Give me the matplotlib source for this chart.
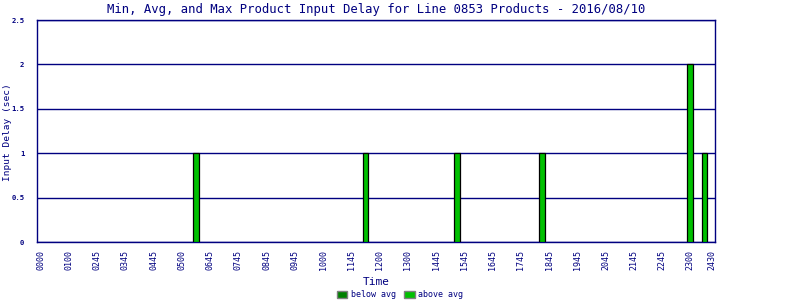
import matplotlib
matplotlib.use("Agg")
import matplotlib.pyplot as plt
from matplotlib.patches import Patch

# time slots (15 min each), only some are labelled on the axis
n_slots = 96
tick_slots = [0, 4, 8, 12, 16, 20, 24, 28, 32, 36, 40, 44, 48, 52, 56, 60, 64, 68, 72, 76, 80, 84, 88, 92, 95]
tick_labels = ["0000", "0100", "0245", "0345", "0445", "0500", "0645", "0745", "0845", "0945",
               "1000", "1145", "1200", "1300", "1445", "1545", "1645", "1745", "1845", "1945",
               "2045", "2145", "2245", "2300", "2430"]

# slots that have a delay value, and the delay in seconds
bar_slots = [22, 46, 59, 71, 92, 94]
delays = [1, 1, 1, 1, 2, 1]

navy = "#000080"
plt.rcParams["font.family"] = ["DejaVu Sans Mono"]

fig = plt.figure(figsize=(8, 3), dpi=100)
ax = fig.add_axes([0.04625, 0.1933, 0.8475, 0.74])

ax.bar(bar_slots, delays, width=0.8, color="#00C000", edgecolor="black", linewidth=0.9, zorder=3)

ax.set_xlim(-0.5, n_slots - 0.5)
ax.set_ylim(0, 2.5)
ax.set_yticks([0, 0.5, 1, 1.5, 2, 2.5])
ax.set_yticklabels(["0", "0.5", "1", "1.5", "2", "2.5"], fontsize=5.2, color=navy, fontweight="bold")
ax.set_xticks(tick_slots)
ax.set_xticklabels(tick_labels, rotation=90, fontsize=6, color=navy)
ax.tick_params(axis="x", length=0, pad=6)
ax.tick_params(axis="y", length=0, pad=9)
ax.grid(axis="y", color=navy, linewidth=1, zorder=1)

for s in ax.spines.values():
    s.set_color(navy)
    s.set_linewidth(1)

fig.text(0.47, 0.97, "Min, Avg, and Max Product Input Delay for Line 0853 Products - 2016/08/10",
         fontsize=8.8, color=navy, ha="center", va="center")
ax.set_xlabel("Time", fontsize=8, color=navy, labelpad=5)
fig.text(0.009, 0.558, "Input Delay (sec)", fontsize=6.8, color=navy, rotation=90,
         ha="center", va="center")

handles = [Patch(facecolor="#008000", edgecolor="gray", label="below avg"),
           Patch(facecolor="#00C000", edgecolor="gray", label="above avg")]
fig.legend(handles=handles, loc="lower center", bbox_to_anchor=(0.5, -0.022), ncol=2,
           frameon=False, fontsize=6, handlelength=1.3, handleheight=0.9,
           columnspacing=1.0, handletextpad=0.4, labelcolor=navy)

fig.savefig("out.png", dpi=100)
